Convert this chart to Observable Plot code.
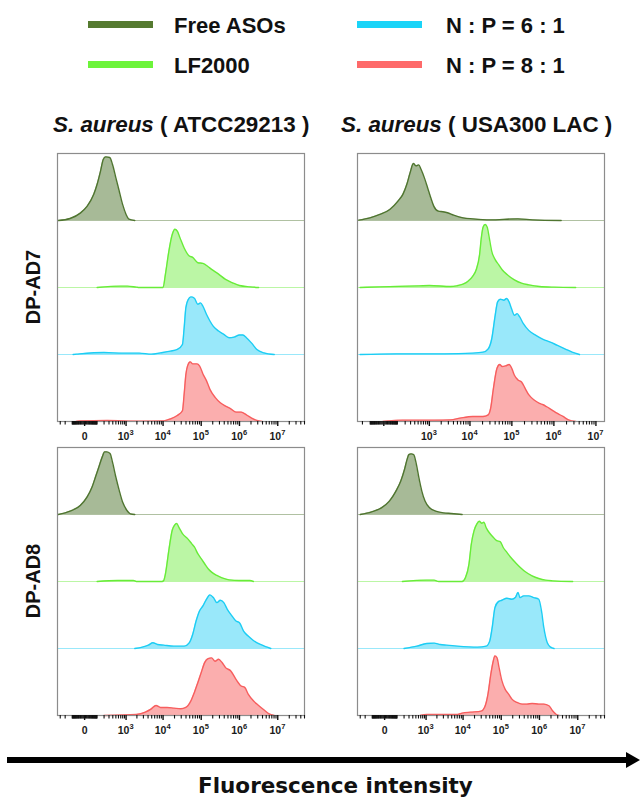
<!DOCTYPE html>
<html>
<head>
<meta charset="utf-8">
<script src="https://cdn.jsdelivr.net/npm/d3@7"></script>
<script src="https://cdn.jsdelivr.net/npm/@observablehq/plot@0.6"></script>
<style>
  html, body { margin: 0; padding: 0; background: #fff; }
  #root { position: relative; width: 640px; height: 798px; overflow: hidden; font-family: "Liberation Sans", Arial, sans-serif; color: #111; }
  .legbar { position: absolute; width: 65px; height: 7px; }
  .legtext { position: absolute; font-weight: bold; font-size: 22px; line-height: 1; white-space: nowrap; }
  .coltitle { position: absolute; font-weight: bold; font-size: 22.4px; line-height: 1; white-space: nowrap; }
  .rowlab { position: absolute; font-weight: bold; font-size: 20px; line-height: 1; white-space: nowrap; transform: translate(-50%, -50%) rotate(-90deg); }
  .xtitle { position: absolute; font-family: "DejaVu Sans", sans-serif; font-weight: bold; font-size: 21.5px; line-height: 1; white-space: nowrap; }
</style>
</head>
<body>
<div id="root"></div>
<script>
// ---------------- categories ----------------
const series = ["Free ASOs", "LF2000", "N : P = 6 : 1", "N : P = 8 : 1"];
const lineColors = ["#4f7530", "#68ec38", "#1ccdf4", "#f75e5e"];
const legendColors = ["#557a30", "#6cf43a", "#1ad4f8", "#fe6a6a"];
const fillOpacity = [0.5, 0.45, 0.45, 0.5];
const strains = ["ATCC29213", "USA300 LAC"];
const compounds = ["DP-AD7", "DP-AD8"];
const majorTicks = [0, 1e3, 1e4, 1e5, 1e6, 1e7];
const tickBase = ["0", "10", "10", "10", "10", "10"];
const tickExp = ["", "3", "4", "5", "6", "7"];
const axisTitle = "Fluorescence intensity";

// ---------------- histogram values: [fluorescence intensity, % of row height] ----------------
// DP-AD7, S. aureus ATCC29213
const ad7_atcc_free = [[-350,0],[-126,3],[-27,11],[14,21],[66,39],[101,54],[145,74],[186,91],[229,95],[318,94],[390,84],[498,64],[631,44],[794,24],[1000,9],[1210,2],[1750,0]];
const ad7_atcc_lf = [[101,0],[707,2],[1100,2],[1930,0.5],[2320,0],[8600,0],[10000,0],[11550,20],[14190,54],[17420,79],[20540,87],[23700,84],[27930,74],[35800,59],[48700,47],[59800,45],[81500,37],[111000,36],[152000,31],[187000,27],[285000,20],[433000,12],[658000,7],[1e6,3],[1.87e6,1],[3.16e6,0]];
const ad7_atcc_np6 = [[-90,0],[-54,0.5],[198,3],[799,2],[2320,2],[4910,0.5],[8600,2.5],[15700,5],[23700,7.5],[32300,15],[35800,40],[39700,70],[45800,82],[54000,86],[66300,84],[81500,75],[96000,77],[111000,72],[137000,60],[169000,50],[208000,42],[285000,35],[390000,30],[534000,25],[731000,26],[1e6,29],[1.23e6,29],[1.52e6,25],[2.08e6,17],[2.85e6,7.5],[4.33e6,2.5],[8.1e6,0]];
const ad7_atcc_np8 = [[-60,0],[-27,1],[263,1.5],[2320,0.5],[10400,1],[15700,4],[23700,9],[32300,16],[35800,41],[39700,70],[44000,83],[51800,89],[59800,86],[78200,86],[90300,83],[111000,71],[137000,61],[169000,48],[231000,36],[316000,28],[433000,23],[593000,19],[811000,14],[1.11e6,14],[1.52e6,10],[2.08e6,5],[2.85e6,1.5],[3.9e6,0]];
// DP-AD7, S. aureus USA300 LAC
const ad7_usa_free = [[-265,0.5],[-102,4],[-22,9],[35,16.5],[106,29],[166,39],[228,54],[291,71.5],[366,85],[437,81.5],[519,83],[601,76.5],[738,64],[901,49],[1090,34],[1300,21.5],[1690,14],[2190,13],[2850,11.5],[4040,8],[6810,4],[11600,2.5],[30100,1],[140000,2.5],[307000,1],[1.49e6,0]];
const ad7_usa_lf = [[-240,0],[-22,1],[541,2.5],[1000,3],[3390,1.5],[4800,2.5],[6810,5],[8850,9],[11600,16.5],[14100,26.5],[17000,49],[18700,74],[20600,90],[23100,94],[25900,90],[29000,74],[33200,54],[40100,41.5],[48500,34],[58700,26.5],[78200,19],[115000,11.5],[170000,6.5],[252000,4],[455000,1.5],[1e6,0.5],[3.3e6,0]];
const ad7_usa_np6 = [[-240,0],[89,1],[2400,1],[11600,2],[20600,3.5],[27400,8.5],[33200,23.5],[40100,58.5],[45800,78.5],[53400,82.5],[64500,81],[75200,83.5],[85900,78.5],[98000,68.5],[115000,58.5],[134000,61],[154000,56],[188000,46],[252000,36],[374000,28.5],[555000,22.5],[822000,18.5],[1.22e6,13.5],[1.82e6,8.5],[2.72e6,3.5],[4.06e6,0]];
const ad7_usa_np8 = [[-5,0],[166,2],[1420,2],[3390,2.5],[5730,5],[11600,7.5],[20600,7.5],[27400,10],[31300,20],[36500,50],[44100,79],[51400,85],[58700,82],[71000,83],[85900,85],[100000,79],[115000,69],[140000,62],[170000,59],[207000,49.5],[252000,40],[339000,32],[455000,27],[555000,25],[675000,22],[906000,17],[1.22e6,12],[1.65e6,7.5],[2.23e6,2.5],[3.33e6,0]];
// DP-AD8, S. aureus ATCC29213
const ad8_atcc_free = [[-350,0],[-126,5],[-27,13.5],[14,26],[51,41],[83,56],[122,71],[170,86],[210,93.5],[249,93.5],[326,91],[390,78.5],[498,56],[631,36],[794,18.5],[1060,6],[1320,1],[1750,0]];
const ad8_atcc_lf = [[101,0],[562,1.5],[1600,1.5],[1930,0],[9460,0],[10400,1.5],[11550,11.5],[14190,46.5],[17420,76.5],[20100,84],[22800,86.5],[26300,80.5],[32300,71.5],[44000,64],[56200,56.5],[66300,51.5],[81500,41.5],[100000,34],[123000,26.5],[152000,19],[187000,14],[257000,9],[351000,5.5],[534000,2.5],[1e6,1.5],[1.87e6,1.5],[2.31e6,0]];
const ad8_atcc_np6 = [[1750,0],[2800,2],[4080,5],[5400,8.5],[7150,6],[10400,5],[19300,3.5],[35800,3.5],[48700,8.5],[59800,21],[73500,41],[90300,56],[111000,63.5],[137000,73.5],[169000,80],[208000,76],[257000,68.5],[316000,72],[390000,68.5],[481000,58.5],[593000,51],[811000,41],[1e6,38.5],[1.28e6,26],[1.69e6,18.5],[2.31e6,12],[3.51e6,6],[5.34e6,2],[6.58e6,0]];
const ad8_atcc_np8 = [[198,0],[1930,1.5],[3380,5],[4910,10],[6500,15],[8600,12],[12800,12],[19300,11],[29100,10],[39700,12],[54000,22],[66300,34.5],[81500,49],[100000,64],[123000,79],[152000,85],[187000,86],[231000,81],[285000,84],[351000,79],[433000,71.5],[593000,66.5],[811000,54],[1.11e6,44],[1.37e6,42],[1.69e6,32],[2.31e6,22],[3.16e6,15],[4.33e6,8.5],[5.92e6,2.5],[8.1e6,0]];
// DP-AD8, S. aureus USA300 LAC
const ad8_usa_free = [[-300,0],[-106,4],[-19,10],[30,20],[88,35],[148,50],[210,68],[261,83],[297,89.5],[353,90.5],[428,89.5],[515,75.5],[617,55],[753,35],[933,20],[1260,10],[1850,5],[2990,2.5],[4830,1.5],[9440,0]];
const ad8_usa_lf = [[172,0],[1040,2],[1680,2],[2240,0],[9440,0],[11600,6],[14300,26],[16500,56],[19500,76],[23100,86],[26700,90],[31000,87],[35100,88.5],[40600,80],[50100,72],[61800,66],[76200,61],[94000,59.5],[115000,50],[141000,43.5],[172000,37],[234000,28.5],[316000,21],[428000,14.5],[641000,8.5],[959000,4.5],[1.44e6,2],[2.17e6,1],[7.36e6,0]];
const ad8_usa_np6 = [[199,0],[540,3.5],[1040,7.5],[1680,8],[2460,6],[3620,5],[7080,3.5],[24100,2],[40600,3.5],[50100,11],[58000,31],[68600,61],[84600,70],[104000,72],[141000,75],[191000,73.5],[234000,76],[275000,83.5],[310000,76],[387000,78.5],[524000,78.5],[709000,76],[959000,73.5],[1.13e6,56],[1.3e6,31],[1.6e6,8.5],[1.96e6,2],[2.4e6,0]];
const ad8_usa_np8 = [[675,0],[1040,1.5],[2240,1.5],[7080,1.5],[9440,3.5],[15800,5],[29700,6.5],[36600,12],[45100,32],[53300,61],[61800,81],[68600,89],[77800,86],[88200,71],[104000,52],[127000,39],[156000,32],[191000,24.5],[258000,19.5],[350000,17],[473000,17],[641000,18],[959000,17],[1.3e6,17],[1.77e6,14.5],[2.17e6,7.5],[2.77e6,1.5],[3.26e6,0]];

// ---------------- layout ----------------
const root = document.getElementById("root");
function el(cls, html, css) {
  const d = document.createElement("div");
  d.className = cls; d.innerHTML = html;
  Object.assign(d.style, css);
  root.appendChild(d);
  return d;
}

// legend (2 columns x 2 rows)
const legPos = [{x: 88, y: 21}, {x: 88, y: 61}, {x: 357, y: 21}, {x: 357, y: 61}];
series.forEach((s, i) => {
  const p = legPos[i];
  el("legbar", "", {left: p.x + "px", top: p.y + "px", background: legendColors[i]});
  el("legtext", s, {left: (p.x + 86 + (i >= 2 ? 3 : 0)) + "px", top: (p.y - 5.6) + "px"});
});

// column titles
const titleX = [53, 341];
strains.forEach((s, i) => {
  el("coltitle", "<i>S. aureus</i> ( " + s + " )", {left: titleX[i] + "px", top: "114px"});
});

// panels
const W = 251, H = 292, M = 2, MB = 22;
const panels = [
  {c: 0, s: 0, left: 55, top: 151, domain: [-370, 5e7], zeroLabel: true, curves: [ad7_atcc_free, ad7_atcc_lf, ad7_atcc_np6, ad7_atcc_np8]},
  {c: 0, s: 1, left: 355, top: 151, domain: [-290, 1.6e7], zeroLabel: false, curves: [ad7_usa_free, ad7_usa_lf, ad7_usa_np6, ad7_usa_np8]},
  {c: 1, s: 0, left: 55, top: 445, domain: [-370, 5e7], zeroLabel: true, curves: [ad8_atcc_free, ad8_atcc_lf, ad8_atcc_np6, ad8_atcc_np8]},
  {c: 1, s: 1, left: 355, top: 445, domain: [-370, 5e7], zeroLabel: true, curves: [ad8_usa_free, ad8_usa_lf, ad8_usa_np6, ad8_usa_np8]}
];

// axis minor ticks (a dense cluster around zero, then 2..9 per decade)
function minorTicksFor(domain) {
  const t = [-300, -200, -100];
  for (let v = -95; v <= 95; v += 5) if (v !== 0) t.push(v);
  for (let d = 2; d <= 7; d++) for (let k = 1; k <= 9; k++) {
    if (k === 1 && d >= 3) continue;
    t.push(k * Math.pow(10, d));
  }
  return t.filter(v => v >= domain[0] && v <= domain[1]);
}

panels.forEach(p => {
  const marks = [];
  series.forEach((name, i) => {
    const base = 3 - i;
    const pts = p.curves[i].map(([x, h]) => ({x, h, base}));
    marks.push(Plot.ruleY([base], {stroke: lineColors[i], strokeOpacity: 0.45, strokeWidth: 1}));
    marks.push(Plot.areaY(pts, {x: "x", y1: "base", y2: d => d.base + d.h / 100, fill: lineColors[i], fillOpacity: fillOpacity[i], curve: "monotone-x"}));
    marks.push(Plot.lineY(pts, {x: "x", y: d => d.base + d.h / 100, stroke: lineColors[i], strokeWidth: 1.4, curve: "monotone-x"}));
  });
  marks.push(Plot.frame({stroke: "#8c8c8c", strokeWidth: 1.2}));
  marks.push(Plot.axisX({ticks: minorTicksFor(p.domain), tickSize: 3.5, tickFormat: () => "", label: null, stroke: "#111", strokeWidth: 1.1}));
  marks.push(Plot.axisX({ticks: majorTicks, tickSize: 5, tickFormat: () => "", label: null, stroke: "#111", strokeWidth: 1.4}));
  // tick labels: "0", and "10" with a raised exponent
  const lab = majorTicks.map((v, i) => ({v, b: tickBase[i], e: tickExp[i]}))
    .filter(d => d.e !== "" || p.zeroLabel);
  const txt = {frameAnchor: "bottom", fontWeight: "bold", fill: "#1a1a1a", lineAnchor: "middle"};
  marks.push(Plot.text(lab.filter(d => d.e === ""), {...txt, x: "v", text: "b", fontSize: 10.5, dy: 15}));
  marks.push(Plot.text(lab.filter(d => d.e !== ""), {...txt, x: "v", text: "b", fontSize: 10.5, dy: 15, dx: -2.5}));
  marks.push(Plot.text(lab.filter(d => d.e !== ""), {...txt, x: "v", text: "e", fontSize: 7.5, dy: 11, dx: 5.5}));
  const svg = Plot.plot({
    width: W, height: H, marginLeft: M, marginRight: M, marginTop: M, marginBottom: MB,
    x: {type: "symlog", constant: 90, domain: p.domain, label: null},
    y: {domain: [0, 4], axis: null},
    style: {fontFamily: "'Liberation Sans', Arial, sans-serif", background: "transparent", overflow: "visible"},
    marks
  });
  svg.style.position = "absolute";
  svg.style.left = p.left + "px";
  svg.style.top = p.top + "px";
  root.appendChild(svg);
});

// row labels
compounds.forEach((c, i) => {
  const p = panels[i * 2];
  const cy = p.top + M + (H - M - MB) / 2;
  el("rowlab", c, {left: "33px", top: cy + "px"});
});

// axis arrow
const ns = "http://www.w3.org/2000/svg";
const arrow = document.createElementNS(ns, "svg");
arrow.setAttribute("width", 640); arrow.setAttribute("height", 30);
Object.assign(arrow.style, {position: "absolute", left: "0px", top: "745px"});
arrow.innerHTML = '<line x1="7" y1="15" x2="630" y2="15" stroke="#000" stroke-width="6"/><polygon points="626,7 640,15 626,23" fill="#000"/>';
root.appendChild(arrow);

el("xtitle", axisTitle, {left: "198px", top: "775px"});
</script>
</body>
</html>
